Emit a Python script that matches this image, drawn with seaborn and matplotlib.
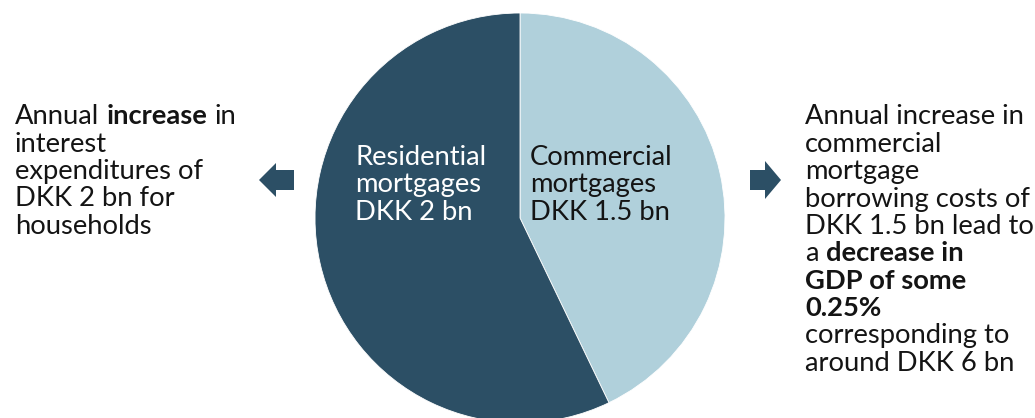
import matplotlib
matplotlib.use("Agg")
import matplotlib.pyplot as plt
import seaborn as sns
from matplotlib.patches import FancyArrow

# Mortgage segments (DKK bn), drawn clockwise from 12 o'clock
segments = ["Commercial", "Residential"]
values_bn = [1.5, 2.0]

# Side notes, one entry per line: (text, bold)
left_note = [
    [("Annual ", False), ("increase", True), (" in", False)],
    [("interest", False)],
    [("expenditures of", False)],
    [(f"DKK {values_bn[1]:g} bn for", False)],
    [("households", False)],
]
right_note = [
    [("Annual increase in", False)],
    [("commercial", False)],
    [("mortgage", False)],
    [("borrowing costs of", False)],
    [(f"DKK {values_bn[0]:g} bn lead to", False)],
    [("a ", False), ("decrease in", True)],
    [("GDP of some", True)],
    [("0.25%", True)],
    [("corresponding to", False)],
    [("around DKK 6 bn", False)],
]

W, H, DPI = 1035, 418, 100
DARK = "#2C4F65"
LIGHT = "#B0D0DB"
INK = "#141414"
FS = 19.7
LINE = 27.4

sns.set_theme(style="white")
plt.rcParams["font.family"] = ["Lato", "DejaVu Sans"]

fig = plt.figure(figsize=(W / DPI, H / DPI), dpi=DPI)
fig.patch.set_facecolor("white")

# Pie: centre at (520, 218) px from top-left, radius 205 px
cx, cy, r = 520, 218, 205
pie_ax = fig.add_axes([(cx - r) / W, (H - cy - r) / H, 2 * r / W, 2 * r / H])
palette = sns.color_palette([LIGHT, DARK])
pie_ax.pie(values_bn, colors=palette, startangle=90, counterclock=False,
           radius=1, wedgeprops=dict(edgecolor="white", linewidth=0.6))
pie_ax.set_xlim(-1, 1)
pie_ax.set_ylim(-1, 1)
pie_ax.set_aspect("equal")
pie_ax.axis("off")

# Overlay in pixel units (y downwards) for notes and arrows
ov = fig.add_axes([0, 0, 1, 1], zorder=3)
ov.set_xlim(0, W)
ov.set_ylim(H, 0)
ov.axis("off")
ov.patch.set_alpha(0)

renderer = fig.canvas.get_renderer()


def text_width(s, weight):
    t = ov.text(0, 0, s, fontsize=FS, fontweight=weight)
    w = t.get_window_extent(renderer).width
    t.remove()
    return w


space_w = {
    wt: text_width("a a", wt) - text_width("aa", wt) for wt in ("normal", "bold")
}


def draw_line(x, y, parts, color):
    for txt, bold in parts:
        wt = "bold" if bold else "normal"
        core = txt.strip(" ")
        lead = len(txt) - len(txt.lstrip(" "))
        trail = len(txt) - len(txt.rstrip(" "))
        x += lead * space_w[wt]
        t = ov.text(x, y, core, fontsize=FS, fontweight=wt, color=color,
                    ha="left", va="baseline")
        x += t.get_window_extent(renderer).width + trail * space_w[wt]


def draw_block(x, y0, lines, color):
    for i, parts in enumerate(lines):
        draw_line(x, y0 + i * LINE, parts, color)


# Labels inside the slices
labels = {
    name: [[(name, False)], [("mortgages", False)], [(f"DKK {v:g} bn", False)]]
    for name, v in zip(segments, values_bn)
}
draw_block(355, 165, labels["Residential"], "white")
draw_block(530, 165, labels["Commercial"], INK)

# Side notes
draw_block(15, 124.3, left_note, INK)
draw_block(805, 124.3, right_note, INK)

# Block arrows
ov.add_patch(FancyArrow(294, 180, -35, 0, width=20, head_width=34, head_length=17,
                        length_includes_head=True, color=DARK, lw=0))
ov.add_patch(FancyArrow(750, 180, 31, 0, width=20, head_width=38, head_length=16,
                        length_includes_head=True, color=DARK, lw=0))

fig.savefig("out.png", dpi=DPI, facecolor="white")
